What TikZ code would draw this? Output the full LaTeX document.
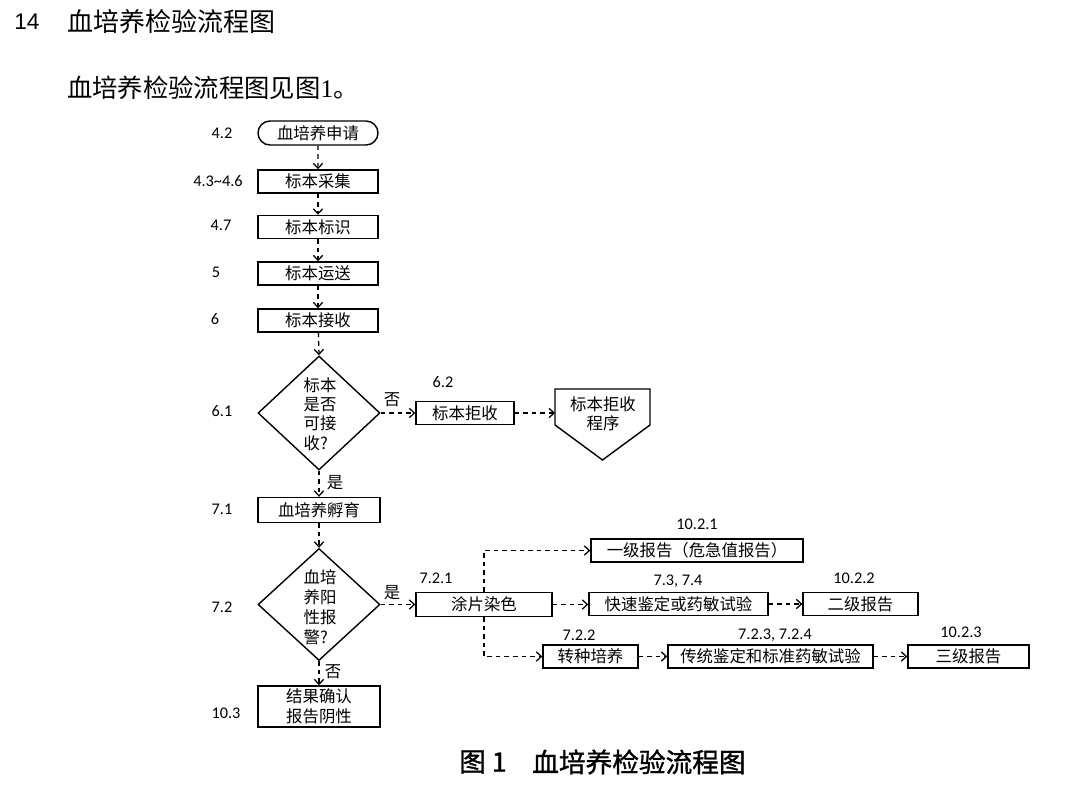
\documentclass[tikz,border=0pt]{standalone}
\usepackage{fontspec}
\usetikzlibrary{arrows.meta,shapes.geometric,shapes.misc}
\newfontfamily\cjk{Noto Sans CJK SC}
\newfontfamily\cjkfb{Noto Sans CJK SC}[FakeBold=1.2]
\newfontfamily\lat{Carlito}
\newfontfamily\arialf{Liberation Sans}
\newfontfamily\serifl{Liberation Serif}
\begin{document}
\begin{tikzpicture}[x=0.75pt,y=-0.75pt,
  box/.style={draw, line width=1.05pt, minimum height=17.25pt, inner sep=0pt,
    font=\cjk\fontsize{12.3}{15}\selectfont},
  dia/.style={draw, line width=1.05pt, diamond, inner sep=0pt},
  num/.style={font=\lat\fontsize{12.2}{14}\selectfont, inner sep=0pt},
  lbl/.style={font=\cjk\fontsize{12.3}{15}\selectfont, inner sep=0pt},
  flow/.style={draw, line width=0.95pt, dash pattern=on 3.4pt off 3pt,
    -{Straight Barb[length=3.8pt,width=7pt,line width=0.95pt]}},
]
\fill[white] (0,0) rectangle (1080,791);
\useasboundingbox (0,0) rectangle (1080,791);

% header
\node[anchor=west, inner sep=0, font=\arialf\fontsize{17}{20}\selectfont] (h1) at (14,22) {14};
\node[anchor=west, inner sep=0, font=\cjk\fontsize{19.5}{22}\selectfont] (h2) at (67,22) {血培养检验流程图};
\node[anchor=west, inner sep=0, font=\cjk\fontsize{19}{22}\selectfont] (h3) at (67,88) {血培养检验流程图见图{\serifl 1}。};

% main column
\node[box, rounded rectangle, minimum width=90pt, minimum height=18pt] (n1) at (318,133) {血培养申请};
\node[box, minimum width=90pt] (n2) at (318,181.5) {标本采集};
\node[box, minimum width=90pt] (n3) at (318,227) {标本标识};
\node[box, minimum width=90pt] (n4) at (318,273.5) {标本运送};
\node[box, minimum width=90pt] (n5) at (318,320.5) {标本接收};
\node[dia, minimum width=91.5pt, minimum height=85.5pt] (d1) at (319,413) {};
\node[lbl, align=left, font=\cjk\fontsize{12.3}{14.6}\selectfont] (d1t) at (320,414) {标本\\是否\\可接\\收?};
\node[box, minimum width=91.5pt, minimum height=18.75pt] (n6) at (319,510) {血培养孵育};
\node[dia, minimum width=91.5pt, minimum height=84pt] (d2) at (319,604.5) {};
\node[lbl, align=left, font=\cjk\fontsize{12.3}{15}\selectfont] (d2t) at (320,607) {血培\\养阳\\性报\\警?};
\node[box, align=center, minimum width=91.5pt, minimum height=30.75pt] (n7) at (319,706.5) {结果确认\\报告阴性};

% rejection branch
\node[box, minimum width=73.5pt] (r1) at (465,413) {标本拒收};
\draw[line width=1.05pt] (555,389) -- (650,389) -- (650,425) -- (602.5,460) -- (555,425) -- cycle;
\coordinate (p1w) at (555,413);
\node[lbl, align=center, font=\cjk\fontsize{12.3}{14.3}\selectfont] (p1t) at (603,414) {标本拒收\\程序};

% positive branch
\node[box, minimum width=102pt, minimum height=18pt] (t1) at (484,604.5) {涂片染色};
\node[box, minimum width=159pt] (a1) at (697,550.5) {一级报告（危急值报告）};
\node[box, minimum width=134.25pt] (a2) at (678.5,604) {快速鉴定或药敏试验};
\node[box, minimum width=86.25pt] (a3) at (860.5,604) {二级报告};
\node[box, minimum width=71.25pt] (b1) at (590.5,656.5) {转种培养};
\node[box, minimum width=153.75pt] (b2) at (770.5,656.5) {传统鉴定和标准药敏试验};
\node[box, minimum width=90.75pt] (b3) at (968.5,656.5) {三级报告};

% section numbers
\node[num] (l1) at (222,133) {4.2};
\node[num] (l2) at (218,181) {4.3\char`~4.6};
\node[num] (l3) at (221,225) {4.7};
\node[num] (l4) at (216,272) {5};
\node[num] (l5) at (215,319) {6};
\node[num] (l6) at (222,411) {6.1};
\node[num] (l7) at (222,509) {7.1};
\node[num] (l8) at (222,607) {7.2};
\node[num] (l9) at (226,713) {10.3};
\node[num] (l10) at (443,382) {6.2};
\node[num] (l11) at (436,578) {7.2.1};
\node[num] (l12) at (697,524) {10.2.1};
\node[num] (l13) at (678,581) {7.3, 7.4};
\node[num] (l14) at (854,578) {10.2.2};
\node[num] (l15) at (579,635) {7.2.2};
\node[num] (l16) at (775,635) {7.2.3, 7.2.4};
\node[num] (l17) at (961,632) {10.2.3};

% yes / no
\node[lbl] (no1) at (392,400) {否};
\node[lbl] (yes1) at (335,483) {是};
\node[lbl] (yes2) at (392,593) {是};
\node[lbl] (no2) at (333,672) {否};

% connectors
\draw[flow] (n1) -- (n2);
\draw[flow] (n2) -- (n3);
\draw[flow] (n3) -- (n4);
\draw[flow] (n4) -- (n5);
\draw[flow] (n5) -- (d1.north);
\draw[flow] (d1.east) -- (r1.west);
\draw[flow] (r1.east) -- (p1w);
\draw[flow] (d1.south) -- (n6.north);
\draw[flow] (n6) -- (d2.north);
\draw[flow] (d2.south) -- (n7.north);
\draw[flow] (d2.east) -- (d2.east -| t1.west);
\draw[flow] (t1.north) |- (a1.west);
\draw[flow] (t1.south) |- (b1.west);
\draw[flow] (t1.east) -- (t1.east -| a2.west);
\draw[flow] (a2.east) -- (a3.west);
\draw[flow] (b1.east) -- (b2.west);
\draw[flow] (b2.east) -- (b3.west);

% caption
\node[anchor=west, inner sep=0, font=\cjkfb\fontsize{20}{24}\selectfont] (cap1) at (459,762) {图 1};
\node[anchor=west, inner sep=0, font=\cjkfb\fontsize{20}{24}\selectfont] (cap2) at (532,762) {血培养检验流程图};
\end{tikzpicture}
\end{document}
